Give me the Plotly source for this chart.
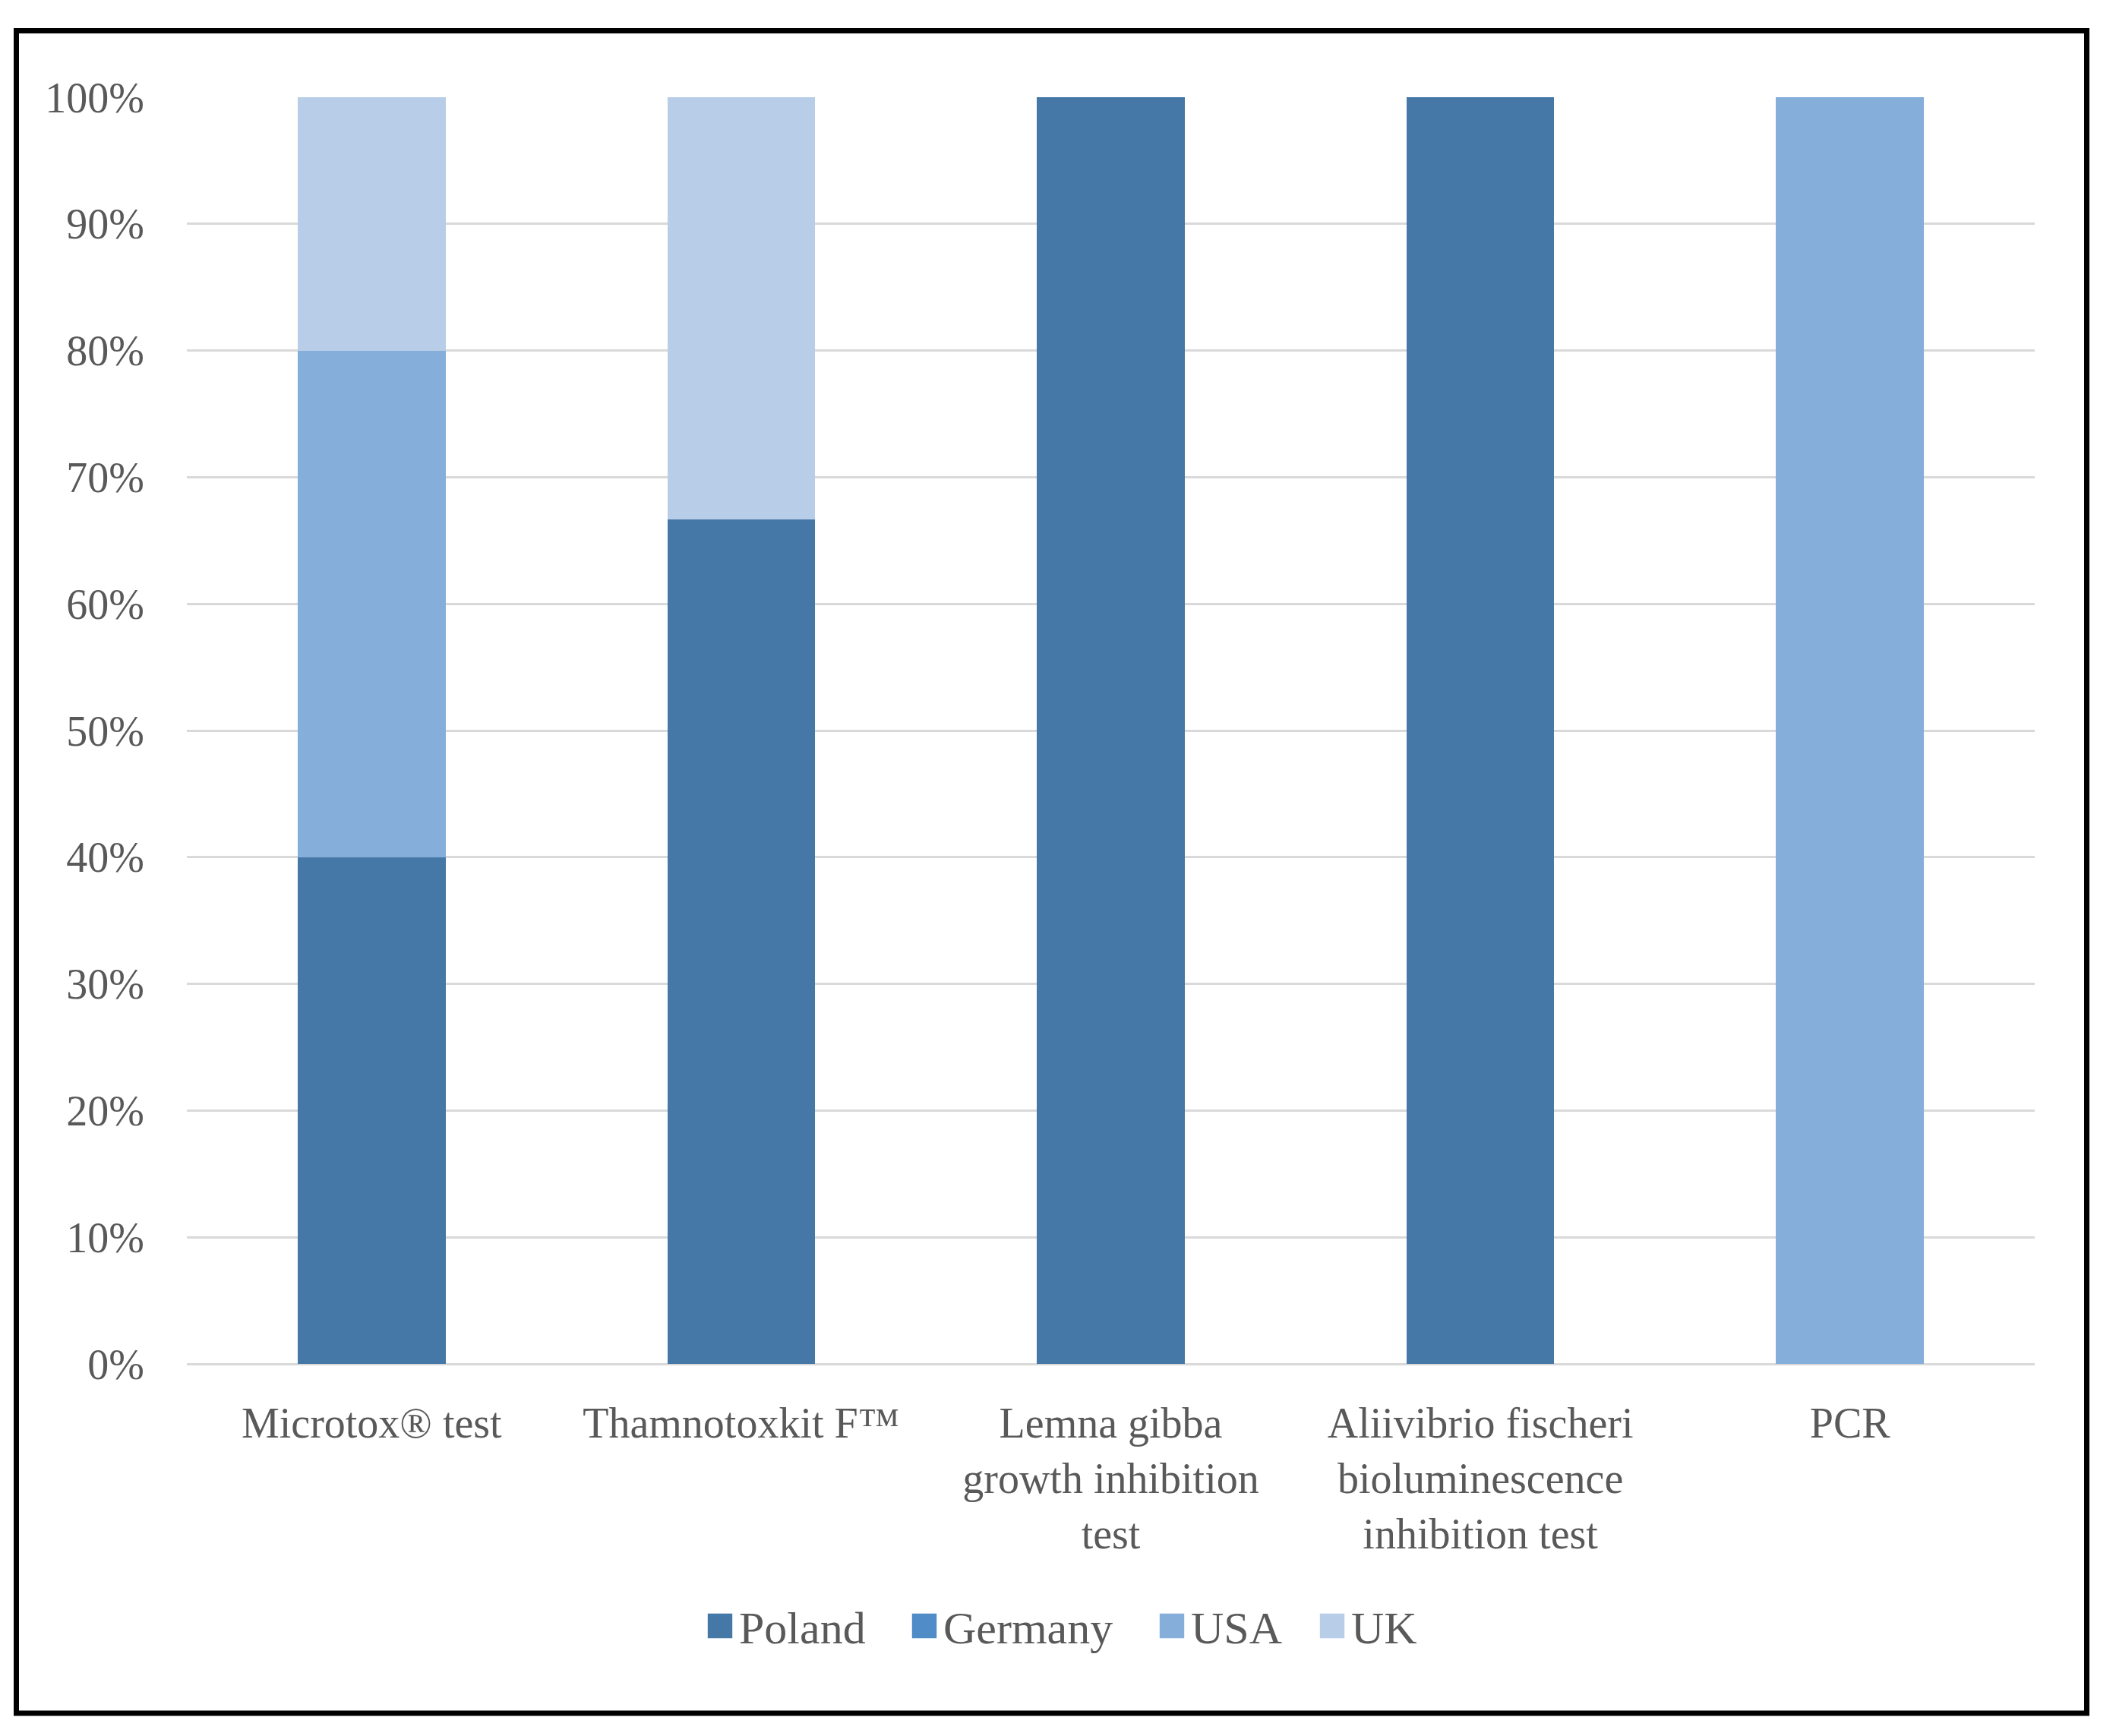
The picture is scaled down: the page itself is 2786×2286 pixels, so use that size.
import plotly.graph_objects as go

categories = [
    "Microtox® test",
    "Thamnotoxkit F™",
    "Lemna gibba<br>growth inhibition<br>test",
    "Aliivibrio fischeri<br>bioluminescence<br>inhibition test",
    "PCR",
]
series_names = ["Poland", "Germany", "USA", "UK"]
poland = [0.40, 0.6667, 1.00, 1.00, 0.00]
germany = [0.00, 0.00, 0.00, 0.00, 0.00]
usa = [0.40, 0.00, 0.00, 0.00, 1.00]
uk = [0.20, 0.3333, 0.00, 0.00, 0.00]
colors = ["#4678A7", "#508CC8", "#85AEDB", "#B8CDE7"]

# page body has an 8px margin; work in figure pixel coordinates
OFF = 8
W, H = 2786 - 2 * OFF, 2286 - 2 * OFF
L = 246 - OFF
R = W - (2679 - OFF)
T = 128 - OFF
B = H - (1796 - OFF)
pw, ph = W - L - R, H - T - B


def px_x(v):
    return (v - OFF - L) / pw


def px_y(v):
    return (H - B - (v - OFF)) / ph


text_col = "#595959"
font_family = "Liberation Serif"

legend_keys = ["legend", "legend2", "legend3", "legend4"]
legend_sq_x = [927, 1196, 1522, 1733]
legend_cy = 2141

fig = go.Figure()
for name, vals, col, lk in zip(series_names, [poland, germany, usa, uk], colors, legend_keys):
    fig.add_trace(go.Bar(name=name, x=categories, y=vals, legend=lk, showlegend=True,
                         marker=dict(color=col, line=dict(width=0))))

legend_layouts = {}
for lk, sx in zip(legend_keys, legend_sq_x):
    legend_layouts[lk] = dict(orientation="h", x=px_x(sx - 4), xanchor="left",
                              y=px_y(legend_cy), yanchor="middle", itemwidth=40,
                              bgcolor="rgba(0,0,0,0)", borderwidth=0,
                              font=dict(size=60, color=text_col, family=font_family))

fig.update_layout(
    width=W, height=H,
    margin=dict(l=L, r=R, t=T, b=B, pad=0),
    barmode="stack", bargap=0.6, showlegend=True,
    plot_bgcolor="white", paper_bgcolor="white",
    font=dict(family=font_family, color=text_col, size=56),
    shapes=[dict(type="rect", xref="paper", yref="paper",
                 x0=px_x(21.5), x1=px_x(2747.5), y0=px_y(2256), y1=px_y(40.5),
                 line=dict(color="black", width=7), layer="below")],
    **legend_layouts,
)
fig.update_yaxes(range=[0, 1], dtick=0.1, tick0=0, tickformat=".0%", showgrid=True,
                 gridcolor="#D9D9D9", gridwidth=3, zeroline=True, zerolinecolor="#D9D9D9",
                 zerolinewidth=3, showline=False, ticks="", ticklabelstandoff=55,
                 tickfont=dict(size=56, color=text_col, family=font_family))
fig.update_xaxes(showgrid=False, showline=False, ticks="", ticklabelstandoff=40,
                 tickangle=0, tickfont=dict(size=56, color=text_col, family=font_family))

post = """
var gd = document.getElementById('{plot_id}');
function enlargeLegendSymbols() {
  var paths = gd.querySelectorAll('.legendpoints path');
  for (var i = 0; i < paths.length; i++) {
    var p = paths[i];
    var orig = p.getAttribute('data-orig-transform');
    if (orig === null) {
      orig = p.getAttribute('transform') || '';
      p.setAttribute('data-orig-transform', orig);
    }
    p.setAttribute('transform', orig + ' scale(2.7)');
  }
}
enlargeLegendSymbols();
if (gd.on) { gd.on('plotly_afterplot', enlargeLegendSymbols); }
setTimeout(enlargeLegendSymbols, 50);
"""

fig.write_html("out.html", post_script=post)
